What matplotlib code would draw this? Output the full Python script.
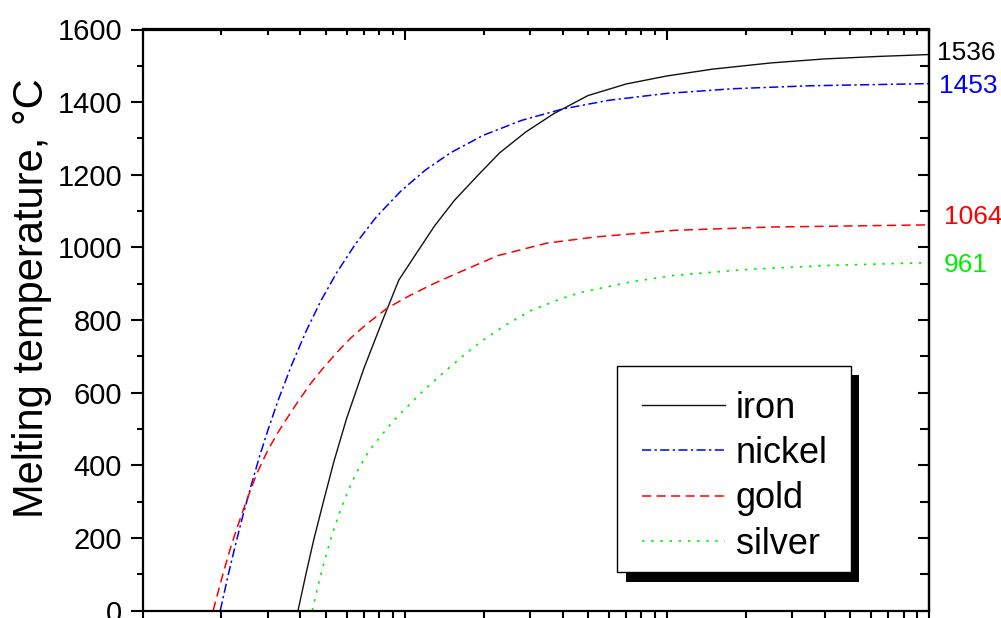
import numpy as np
import matplotlib
matplotlib.use("Agg")
import matplotlib.pyplot as plt
from matplotlib.patches import Rectangle
from matplotlib.ticker import MultipleLocator, LogLocator, NullFormatter
import matplotlib.transforms as mtransforms

plt.rcParams['font.family'] = ['Liberation Sans', 'DejaVu Sans']

# ---- data (particle size, nm  -> melting temperature, degC) ----
iron_x = [3.92, 4.2, 4.5, 4.9, 5.37, 6.0, 7.0, 8.3, 9.5, 11, 13, 15.5, 19, 23, 29, 37, 50, 70, 100, 150, 250, 400, 650, 1000]
iron_y = [0, 100, 195, 300, 410, 528, 668, 805, 910, 980, 1059, 1130, 1198, 1260, 1318, 1368, 1418, 1450, 1472, 1491, 1508, 1519, 1526, 1531]

nickel_x = [1.98, 2.1, 2.25, 2.4, 2.6, 2.8, 3.0, 3.3, 3.7, 4.2, 4.8, 5.5, 6.5, 7.8, 9.7, 12, 15, 20, 28, 40, 60, 100, 180, 350, 1000]
nickel_y = [0, 83, 174, 254, 346, 426, 494, 581, 675, 768, 854, 930, 1010, 1084, 1156, 1213, 1261, 1309, 1350, 1381, 1405, 1424, 1437, 1445, 1451]

gold_x = [1.86, 2.0, 2.15, 2.3, 2.5, 2.74, 3.0, 3.27, 3.6, 3.89, 4.4, 4.92, 5.5, 6.22, 7.2, 8.59, 10.5, 12.9, 16, 22.6, 35, 54, 107, 250, 1000]
gold_y = [0, 85, 165, 230, 305, 380, 440, 488, 535, 572, 627, 670, 710, 750, 790, 833, 868, 900, 930, 977, 1012, 1029, 1047, 1056, 1062]

silver_x = [4.44, 4.7, 4.92, 5.3, 5.7, 6.2, 6.6, 7.3, 8.1, 9.0, 10.2, 11.5, 13.7, 16.5, 19.5, 24, 30.3, 40, 47, 72.9, 107, 200, 400, 1000]
silver_y = [0, 75, 132, 212, 278, 343, 384, 439, 480, 520, 560, 598, 648, 698, 740, 784, 826, 860, 876, 905, 923, 939, 950, 958]

series_names = ['iron', 'nickel', 'gold', 'silver']
bulk_labels = ['1536', '1453', '1064', '961']
ylabel = 'Melting temperature, \u00b0C'

W, H = 1001, 618
fig = plt.figure(figsize=(W / 100, H / 100), dpi=100)
L, R, T, B = 142.5, 929.0, 29.5, 610.5
ax = fig.add_axes([L / W, (H - B) / H, (R - L) / W, (B - T) / H])

styles = [
    dict(color='#111111', linestyle='-', lw=1.0),
    dict(color='#0000FF', linestyle=(0, (6, 2.2, 1.5, 2.2)), lw=1.1),
    dict(color='#FF0000', linestyle=(0, (6, 3.5)), lw=1.1),
    dict(color='#00EE00', linestyle=(0, (1.5, 4)), lw=1.2),
]
data = [(iron_x, iron_y), (nickel_x, nickel_y), (gold_x, gold_y), (silver_x, silver_y)]
lines = []
for (xs, ys), name, st in zip(data, series_names, styles):
    ln, = ax.plot(xs, ys, label=name, **st)
    lines.append(ln)

ax.set_xscale('log')
ax.set_xlim(1, 1000)
ax.set_ylim(0, 1600)
ax.yaxis.set_major_locator(MultipleLocator(200))
ax.yaxis.set_minor_locator(MultipleLocator(100))
ax.xaxis.set_major_locator(LogLocator(base=10, numticks=10))
ax.xaxis.set_minor_locator(LogLocator(base=10, subs=np.arange(2, 10), numticks=10))
ax.xaxis.set_minor_formatter(NullFormatter())

for sp in ax.spines.values():
    sp.set_linewidth(1.6)

px = 72 / 100.0  # points per pixel
ax.tick_params(axis='y', which='major', direction='out', length=12 * px, width=1.5, labelsize=21, pad=6)
ax.tick_params(axis='y', which='minor', direction='out', length=6 * px, width=1.5)
ax.tick_params(axis='x', which='major', direction='out', length=12 * px, width=1.5, labelbottom=False)
ax.tick_params(axis='x', which='minor', direction='out', length=7 * px, width=1.5)

# inward ticks on top and right
secx = ax.secondary_xaxis('top')
secx.xaxis.set_major_locator(LogLocator(base=10, numticks=10))
secx.xaxis.set_minor_locator(LogLocator(base=10, subs=np.arange(2, 10), numticks=10))
secx.tick_params(which='major', direction='in', length=11 * px, width=1.5, labeltop=False)
secx.tick_params(which='minor', direction='in', length=5.5 * px, width=1.5)
secx.xaxis.set_minor_formatter(NullFormatter())
secx.spines['top'].set_linewidth(1.6)

secy = ax.secondary_yaxis('right')
secy.yaxis.set_major_locator(MultipleLocator(200))
secy.yaxis.set_minor_locator(MultipleLocator(100))
secy.tick_params(which='major', direction='in', length=11 * px, width=1.5, labelright=False)
secy.tick_params(which='minor', direction='in', length=9 * px, width=1.5)
secy.spines['right'].set_linewidth(1.6)

ax.set_ylabel(ylabel, fontsize=30)
ax.yaxis.set_label_coords((52 - L) / (R - L), (B - 298) / (B - T))

# bulk melting-point labels at right end
trans = mtransforms.blended_transform_factory(ax.transAxes, ax.transData)
label_colors = ['#000000', '#0000FF', '#FF0000', '#00EE00']
x_offs = [(937 - L) / (R - L), (939 - L) / (R - L), (944 - L) / (R - L), (944 - L) / (R - L)]
y_shift_px = [0, -3, 7, -3.5]
for lab, col, xo, dy in zip(bulk_labels, label_colors, x_offs, y_shift_px):
    off = mtransforms.offset_copy(trans, fig=fig, x=0, y=dy * px, units='points')
    ax.text(xo, float(lab), lab, transform=off, color=col, fontsize=19,
            ha='left', va='center', clip_on=False)

# legend: frame + shadow drawn as patches, legend itself frameless
shadow = Rectangle((626 / W, (H - 581.7) / H), 233.3 / W, 206.7 / H, transform=fig.transFigure,
                   facecolor='black', edgecolor='black', lw=0, zorder=4, clip_on=False)
frame = Rectangle((617.3 / W, (H - 571.7) / H), 233.4 / W, 205.7 / H, transform=fig.transFigure,
                  facecolor='white', edgecolor='black', lw=1.0, zorder=4.5, clip_on=False)
ax.add_patch(shadow)
ax.add_patch(frame)
leg = ax.legend(handles=lines, loc='upper left', bbox_to_anchor=(642 / W, (H - 390.5) / H),
                bbox_transform=fig.transFigure, frameon=False, fontsize=26, borderpad=0,
                borderaxespad=0, handlelength=2.3, handletextpad=0.3, labelspacing=0.29)
leg.set_zorder(6)

fig.savefig('out.png', dpi=100)
